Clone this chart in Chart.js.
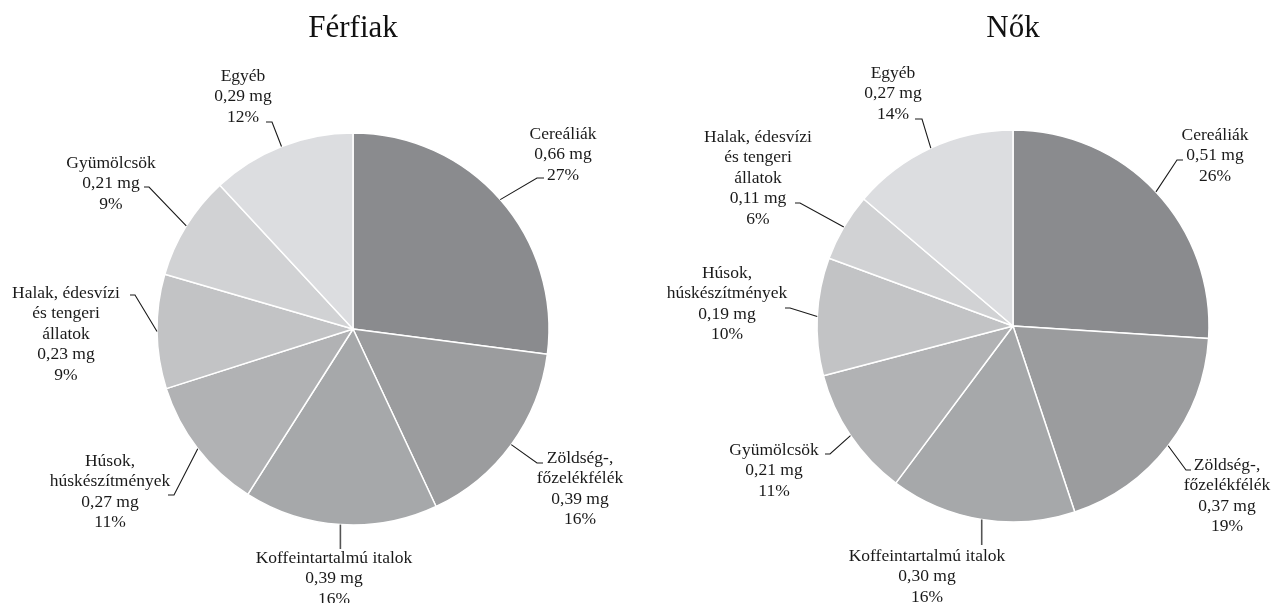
<!DOCTYPE html>
<html lang="hu">
  <head>
    <meta charset="utf-8" />
    <title>Férfiak / Nők</title>
    <style>
      html, body { margin: 0; padding: 0; background: #fff; overflow: hidden; }
      .pie { position: absolute; top: 0; height: 603px; }
      #men-wrap { left: 0; width: 706px; }
      #women-wrap { left: 635px; width: 636px; }
    </style>
  </head>
  <body>
    <div class="pie" id="men-wrap"><canvas id="men" width="706" height="603"></canvas></div>
    <div class="pie" id="women-wrap"><canvas id="women" width="636" height="603"></canvas></div>

    <script src="https://cdn.jsdelivr.net/npm/chart.js@4.4.0/dist/chart.umd.min.js"></script>
    <script>
      // data
      const menCategories = [
        ["Cereáliák"],
        ["Zöldség-,", "főzelékfélék"],
        ["Koffeintartalmú italok"],
        ["Húsok,", "húskészítmények"],
        ["Halak, édesvízi", "és tengeri", "állatok"],
        ["Gyümölcsök"],
        ["Egyéb"],
      ];
      const menValues = [0.66, 0.39, 0.39, 0.27, 0.23, 0.21, 0.29];
      const menPercents = [27, 16, 16, 11, 9, 9, 12];

      const womenCategories = [
        ["Cereáliák"],
        ["Zöldség-,", "főzelékfélék"],
        ["Koffeintartalmú italok"],
        ["Gyümölcsök"],
        ["Húsok,", "húskészítmények"],
        ["Halak, édesvízi", "és tengeri", "állatok"],
        ["Egyéb"],
      ];
      const womenValues = [0.51, 0.37, 0.30, 0.21, 0.19, 0.11, 0.27];
      const womenPercents = [26, 19, 16, 11, 10, 6, 14];

      // colours go by slice position, darkest first
      const SLICE_COLORS = ["#8a8b8e", "#9b9c9e", "#a6a8aa", "#b1b2b4", "#c2c3c5", "#d1d2d4", "#dcdde0"];
      const FONT = "'Liberation Serif', 'Times New Roman', serif";

      // label placement (page coords): text centre x, first line y, leader elbow/end
      // vert: leader goes straight down from the slice edge to y
      const menCallouts = [
        { x: 563, y: 134, elbow: [537, 178], end: [544, 178] },
        { x: 580, y: 458, elbow: [537, 463], end: [543, 463] },
        { x: 334, y: 558, vert: 549 },
        { x: 110, y: 461, elbow: [174, 495], end: [168, 495] },
        { x: 66, y: 293, elbow: [135, 295], end: [130, 295] },
        { x: 111, y: 163, elbow: [149, 187], end: [144, 187] },
        { x: 243, y: 76, elbow: [272, 122], end: [266, 122] },
      ];
      const womenCallouts = [
        { x: 1215, y: 135, elbow: [1177, 160], end: [1183, 160] },
        { x: 1227, y: 465, elbow: [1186, 470], end: [1191, 470] },
        { x: 927, y: 556, vert: 545 },
        { x: 774, y: 450, elbow: [830, 454], end: [825, 454] },
        { x: 727, y: 273, elbow: [790, 308], end: [785, 308] },
        { x: 758, y: 137, elbow: [800, 203], end: [795, 203] },
        { x: 893, y: 73, elbow: [922, 119], end: [915, 119] },
      ];

      const fmtMg = (v) => v.toFixed(2).replace(".", ",") + " mg";

      const calloutPlugin = {
        id: "callouts",
        afterDatasetsDraw(chart, args, opts) {
          const ctx = chart.ctx;
          const meta = chart.getDatasetMeta(0);
          const ox = opts.offsetX;
          ctx.save();
          ctx.font = "17.5px " + FONT;
          ctx.fillStyle = "#1a1a1a";
          ctx.textAlign = "center";
          ctx.textBaseline = "middle";
          meta.data.forEach((arc, i) => {
            const p = arc.getProps(["x", "y", "startAngle", "endAngle", "outerRadius"], true);
            const mid = (p.startAngle + p.endAngle) / 2;
            const ex = p.x + Math.cos(mid) * p.outerRadius;
            const ey = p.y + Math.sin(mid) * p.outerRadius;
            const c = opts.callouts[i];

            ctx.beginPath();
            ctx.moveTo(ex, ey);
            if (c.vert) {
              ctx.strokeStyle = "#555";
              ctx.lineWidth = 1.6;
              ctx.lineTo(ex, c.vert);
            } else {
              ctx.strokeStyle = "#1a1a1a";
              ctx.lineWidth = 1.1;
              ctx.lineTo(c.elbow[0] - ox, c.elbow[1]);
              ctx.lineTo(c.end[0] - ox, c.end[1]);
            }
            ctx.stroke();

            const lines = opts.categories[i].concat([fmtMg(opts.values[i]), opts.percents[i] + "%"]);
            lines.forEach((t, k) => ctx.fillText(t, c.x - ox, c.y + k * 20.6));
          });
          ctx.restore();
        },
      };

      function makePie(id, title, categories, values, percents, callouts, offsetX, pad, titleGap) {
        new Chart(document.getElementById(id), {
          type: "pie",
          data: {
            labels: categories.map((c) => c.join(" ")),
            datasets: [
              {
                data: values,
                backgroundColor: SLICE_COLORS,
                borderColor: "#ffffff",
                borderWidth: 1.5,
                radius: 196,
              },
            ],
          },
          options: {
            responsive: false,
            animation: false,
            devicePixelRatio: 1,
            layout: { padding: pad },
            plugins: {
              legend: { display: false },
              tooltip: { enabled: false },
              title: {
                display: true,
                text: title,
                color: "#111",
                font: { family: FONT, size: 31, weight: "normal" },
                padding: { top: 10, bottom: titleGap },
              },
              callouts: { categories, values, percents, callouts, offsetX },
            },
          },
          plugins: [calloutPlugin],
        });
      }

      makePie("men", "Férfiak", menCategories, menValues, menPercents, menCallouts, 0,
        { top: 0, bottom: 78, left: 0, right: 0 }, 85.8);
      makePie("women", "Nők", womenCategories, womenValues, womenPercents, womenCallouts, 635,
        { top: 0, bottom: 81, left: 120, right: 0 }, 82.8);
    </script>
  </body>
</html>
